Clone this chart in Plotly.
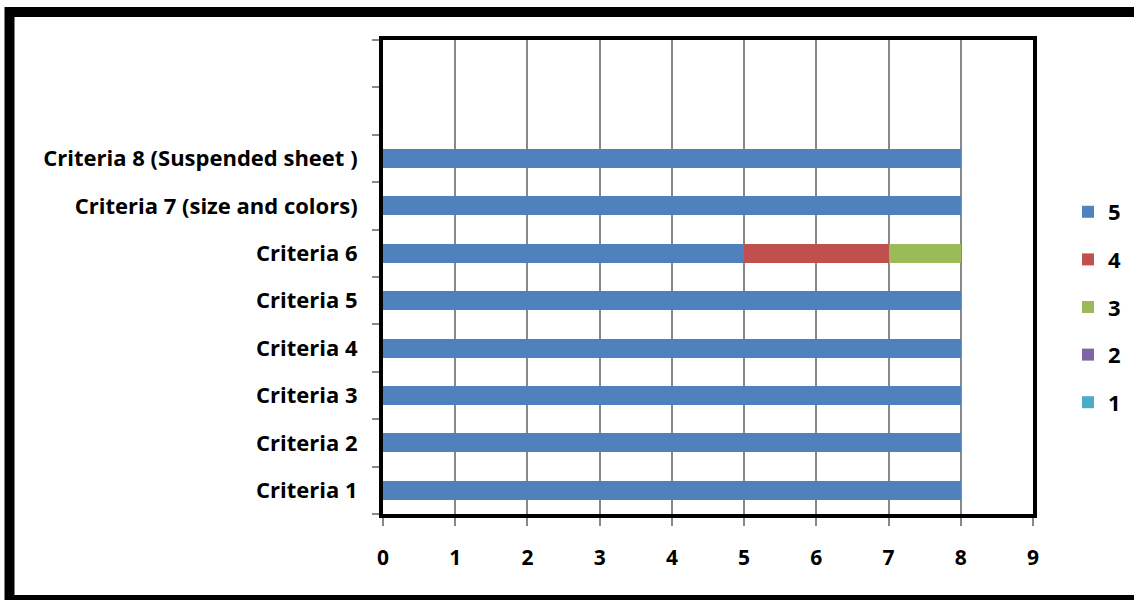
import plotly.graph_objects as go

# Categories (bottom to top); two blank slots above the last criterion
categories = [
    "Criteria 1", "Criteria 2", "Criteria 3", "Criteria 4",
    "Criteria 5", "Criteria 6", "Criteria 7 (size and colors)",
    "Criteria 8 (Suspended sheet )", " ", "  ",
]
criteria = categories[:8]

# Number of responses per rating
rating_5 = [8, 8, 8, 8, 8, 5, 8, 8]
rating_4 = [0, 0, 0, 0, 0, 2, 0, 0]
rating_3 = [0, 0, 0, 0, 0, 1, 0, 0]
rating_2 = [0, 0, 0, 0, 0, 0, 0, 0]
rating_1 = [0, 0, 0, 0, 0, 0, 0, 0]

series = [
    ("5", rating_5, "#4F81BD"),
    ("4", rating_4, "#C0504D"),
    ("3", rating_3, "#9BBB59"),
    ("2", rating_2, "#8064A2"),
    ("1", rating_1, "#4BACC6"),
]

x_ticks = list(range(0, 10))

FONT = "'Open Sans', Lato, sans-serif"

fig = go.Figure()
for name, vals, color in series:
    fig.add_trace(go.Bar(
        y=criteria, x=vals, name=name, orientation="h",
        marker=dict(color=color, line=dict(width=0)),
        legendgroup=name,
    ))

L, R, T, B = 383, 101, 40, 86
W, H = 1134, 600
pw, ph = W - L - R, H - T - B

def px_x(p):
    return (p - L) / pw

def px_y(p):
    return (H - B - p) / ph

fig.update_layout(
    width=W, height=H,
    margin=dict(l=L, r=R, t=T, b=B, autoexpand=False),
    barmode="stack",
    bargap=0.6,
    paper_bgcolor="white",
    plot_bgcolor="white",
    font=dict(family=FONT, size=22, color="black", weight="bold"),
    showlegend=True,
    legend=dict(
        traceorder="grouped",
        x=px_x(1068), xanchor="left",
        y=px_y(191), yanchor="top",
        tracegroupgap=16,
        font=dict(family=FONT, size=22, color="black", weight="bold"),
        bgcolor="rgba(0,0,0,0)",
    ),
    xaxis=dict(
        range=[0, 9],
        tickvals=x_ticks,
        ticktext=[str(v) for v in x_ticks],
        showgrid=True, gridcolor="#888888", gridwidth=2,
        zeroline=False,
        showline=True, linecolor="black", linewidth=4, mirror=True,
        ticks="outside", ticklen=8, tickwidth=2, tickcolor="#888888",
        ticklabelstandoff=14,
        tickfont=dict(size=21),
    ),
    yaxis=dict(
        type="category",
        categoryorder="array", categoryarray=categories,
        range=[-0.5, 9.5],
        tickson="boundaries",
        showgrid=False, zeroline=False,
        showline=True, linecolor="black", linewidth=4, mirror=True,
        ticks="outside", ticklen=7, tickwidth=2, tickcolor="#888888",
        ticklabelstandoff=17,
    ),
    shapes=[
        # outer frame around the chart
        dict(type="rect", xref="paper", yref="paper",
             x0=px_x(9.5), x1=px_x(1145), y0=px_y(12), y1=px_y(600),
             line=dict(color="black", width=10), fillcolor="rgba(0,0,0,0)",
             layer="above"),
    ],
)

fig.write_html("out.html")
